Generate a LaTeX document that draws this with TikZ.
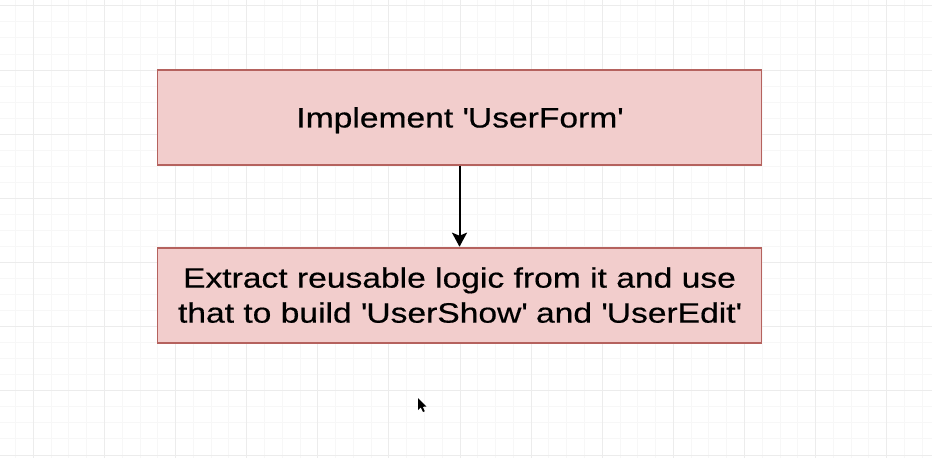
\documentclass[tikz,border=0pt]{standalone}
\usepackage{fontspec}
\setmainfont{Liberation Sans}[FakeStretch=1.2,FakeBold=0.5]
\usetikzlibrary{arrows.meta,positioning}
\definecolor{boxfill}{HTML}{F2CDCC}
\definecolor{boxline}{HTML}{B5625E}
\definecolor{gridminor}{HTML}{F7F7F7}
\definecolor{gridmajor}{HTML}{ECECEC}
\newcommand{\sq}{\textquotesingle}

\begin{document}
\begin{tikzpicture}[x=1pt,y=-1pt]
    \tikzstyle{stepbox} = [draw=boxline,fill=boxfill,line width=1.8pt,minimum width=604pt,minimum height=95pt,inner sep=0pt,align=center,font=\fontsize{28}{35}\selectfont]
    \tikzstyle{flow} = [line width=2pt,-{Stealth[length=14pt,width=15pt,inset=3pt]}]

    \useasboundingbox (0,0) rectangle (932,458);
    \fill[white] (0,0) rectangle (932,458);

    % grid
    \foreach \i in {0,...,52} \draw[gridminor,line width=0.9pt] ({15.5+17.78*\i},0) -- ++(0,458);
    \foreach \j in {0,...,28} \draw[gridminor,line width=0.9pt] (0,{5.84+16.04*\j}) -- ++(932,0);
    \foreach \i in {0,...,12} \draw[gridmajor,line width=0.9pt] ({33.3+71.12*\i},0) -- ++(0,458);
    \foreach \j in {0,...,7} \draw[gridmajor,line width=0.9pt] (0,{5.84+64.16*\j}) -- ++(932,0);

    % steps
    \node[stepbox] (form) at (459.5,117.3) {\raisebox{0pt}[\height][0pt]{Implement \sq UserForm\sq}};
    \node[stepbox,below=81pt of form] (reuse) {Extract reusable logic from it and use\\that to build \sq UserShow\sq{} and \sq UserEdit\sq};
    \draw[flow] (form) -- (reuse);

    % pointer
    \fill[black] (418,398) -- (418,410) -- (420.8,407.4) -- (423,412) -- (424.8,411.2) -- (422.7,406.8) -- (426.4,406.6) -- cycle;
\end{tikzpicture}
\end{document}
